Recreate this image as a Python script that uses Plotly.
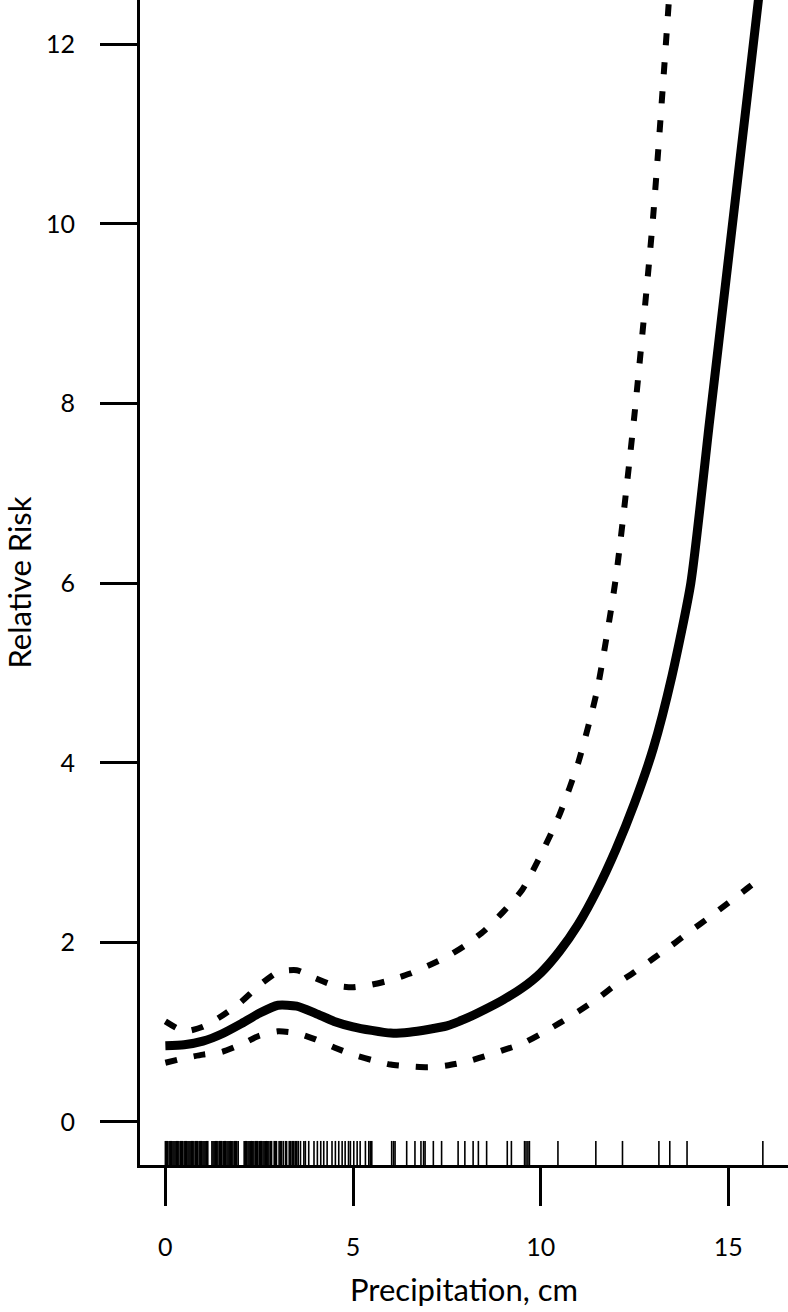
import plotly.graph_objects as go

# precipitation grid (cm) and fitted relative risk with 95% band
precip = [0.0, 0.5, 1.0, 1.5, 2.0, 2.5, 3.0, 3.5, 4.0, 4.5, 5.0, 5.5, 6.0, 6.5,
          7.0, 7.5, 8.0, 8.5, 9.0, 9.5, 10.0, 10.5, 11.0, 11.5, 12.0, 12.5,
          13.0, 13.5, 14.0, 14.5, 15.0, 15.5, 15.9]
rr_fit = [0.85, 0.86, 0.90, 0.98, 1.09, 1.21, 1.30, 1.29, 1.21, 1.12, 1.06, 1.02,
          0.99, 1.00, 1.03, 1.07, 1.15, 1.25, 1.36, 1.49, 1.66, 1.90, 2.20, 2.58,
          3.03, 3.55, 4.16, 4.97, 6.00, 7.80, 9.60, 11.40, 12.85]
# upper bound leaves the plot above ~13.4 cm
rr_upper = [1.12, 1.01, 1.06, 1.18, 1.33, 1.52, 1.67, 1.69, 1.60, 1.52, 1.50, 1.53,
            1.58, 1.65, 1.74, 1.84, 1.97, 2.13, 2.34, 2.58, 2.97, 3.42, 4.00, 4.80,
            6.05, 7.88, 10.10, 13.00, 16.50]
rr_lower = [0.66, 0.71, 0.75, 0.78, 0.86, 0.96, 1.01, 0.99, 0.92, 0.83, 0.75, 0.69,
            0.64, 0.62, 0.61, 0.63, 0.67, 0.73, 0.80, 0.87, 0.98, 1.10, 1.23, 1.37,
            1.53, 1.67, 1.82, 1.97, 2.13, 2.28, 2.44, 2.60, 2.73]

# observed precipitation values (rug)
rug_precip = [
    0.00, 0.03, 0.06, 0.10, 0.13, 0.16, 0.20, 0.23, 0.26, 0.30, 0.33, 0.36,
    0.40, 0.43, 0.46, 0.50, 0.53, 0.56, 0.60, 0.63, 0.66, 0.70, 0.73, 0.76,
    0.80, 0.83, 0.86, 0.90, 0.93, 0.96, 1.00, 1.03, 1.06, 1.10, 1.13, 1.24,
    1.27, 1.30, 1.34, 1.37, 1.40, 1.44, 1.47, 1.50, 1.54, 1.57, 1.60, 1.64,
    1.67, 1.70, 1.74, 1.77, 1.80, 1.84, 1.87, 1.90, 1.94, 2.10, 2.13, 2.16,
    2.20, 2.23, 2.26, 2.30, 2.33, 2.36, 2.40, 2.43, 2.46, 2.50, 2.53, 2.56,
    2.60, 2.63, 2.66, 2.70, 2.73, 2.76, 2.80, 2.83, 2.90, 2.93, 2.96, 3.03,
    3.06, 3.09, 3.14, 3.20, 3.23, 3.30, 3.34, 3.38, 3.42, 3.46, 3.50, 3.54,
    3.60, 3.69, 3.73, 3.82, 3.96, 4.05, 4.14, 4.22, 4.31, 4.44, 4.53, 4.62,
    4.71, 4.79, 4.88, 4.93, 5.02, 5.11, 5.19, 5.33, 5.42, 5.46, 5.50,
    6.03, 6.08, 6.12, 6.43, 6.65, 6.81, 6.88, 6.92, 7.14, 7.36, 7.80, 7.98,
    8.20, 8.34, 8.56, 9.11, 9.22, 9.57, 9.61, 9.66, 9.70, 10.46, 11.47, 12.18,
    13.15, 13.44, 13.90, 15.92,
]

x_ticks = [0, 5, 10, 15]
y_ticks = [0, 2, 4, 6, 8, 10, 12]

X_RANGE = [-0.676, 16.59]
Y_RANGE = [-0.479, 12.494]
RUG_Y = -0.367

FONT = "Lato, 'Open Sans', sans-serif"

fig = go.Figure()

fig.add_trace(go.Scatter(
    x=precip[:len(rr_upper)], y=rr_upper, mode="lines",
    line=dict(color="black", width=6, dash="12px,17px", shape="spline", smoothing=0.6),
    name="Upper 95% CI",
))
fig.add_trace(go.Scatter(
    x=precip, y=rr_lower, mode="lines",
    line=dict(color="black", width=6, dash="12px,17px", shape="spline", smoothing=0.6),
    name="Lower 95% CI",
))
fig.add_trace(go.Scatter(
    x=precip, y=rr_fit, mode="lines",
    line=dict(color="black", width=9, shape="spline", smoothing=0.6),
    name="Relative risk",
))
fig.add_trace(go.Scatter(
    x=rug_precip, y=[RUG_Y] * len(rug_precip), mode="markers",
    marker=dict(symbol="line-ns", size=20, line=dict(color="black", width=1.6)),
    name="Observations",
))

fig.update_layout(
    width=788, height=1312, autosize=False,
    margin=dict(l=137, r=0, t=0, b=147, pad=0),
    paper_bgcolor="white", plot_bgcolor="white",
    showlegend=False,
    font=dict(family=FONT, color="black", size=25),
)
fig.update_xaxes(
    range=X_RANGE, tickvals=x_ticks, showgrid=False, zeroline=False,
    showline=True, linecolor="black", linewidth=3,
    ticks="outside", ticklen=38, tickwidth=2.5, tickcolor="black",
    ticklabelstandoff=20, tickfont=dict(size=25),
    title=dict(text="Precipitation, cm", font=dict(size=31), standoff=20),
)
fig.update_yaxes(
    range=Y_RANGE, tickvals=y_ticks, showgrid=False, zeroline=False,
    showline=True, linecolor="black", linewidth=3,
    ticks="outside", ticklen=37, tickwidth=2.5, tickcolor="black",
    ticklabelstandoff=20, tickfont=dict(size=25),
    title=dict(text="Relative Risk", font=dict(size=31), standoff=24),
)

fig.write_html("out.html", config={"displayModeBar": False},
               post_script="document.body.style.margin='0';")
